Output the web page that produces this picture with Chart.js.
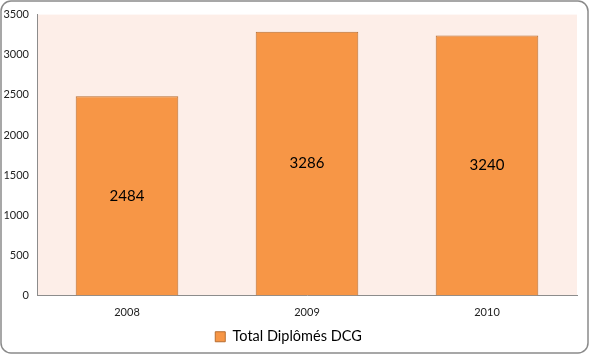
<!DOCTYPE html>
<html><head><meta charset="utf-8">
<script src="https://cdn.jsdelivr.net/npm/chart.js@4/dist/chart.umd.min.js"></script>
<style>html,body{margin:0;padding:0;background:#fff;}#wrap{width:590px;height:356px;position:relative;}</style>
</head><body><div id="wrap"><canvas id="c" width="590" height="356"></canvas></div>
<script>
const categories = ["2008", "2009", "2010"];
const seriesName = "Total Diplômés DCG";
const values = [2484, 3286, 3240];
const yTicks = [0, 500, 1000, 1500, 2000, 2500, 3000, 3500];

const frame = {
  id: 'frame',
  beforeDraw(chart) {
    const ctx = chart.ctx, a = chart.chartArea;
    ctx.save();
    ctx.fillStyle = '#fff';
    ctx.fillRect(0, 0, chart.width, chart.height);
    ctx.fillStyle = '#FDEEE8';
    ctx.fillRect(a.left, a.top, a.right - a.left, a.bottom - a.top);
    ctx.restore();
  },
  afterDraw(chart) {
    const ctx = chart.ctx;
    ctx.save();
    ctx.strokeStyle = '#8a8a8a';
    ctx.lineWidth = 1.5;
    ctx.beginPath();
    ctx.roundRect(1, 1, chart.width - 3, chart.height - 4, 10);
    ctx.stroke();
    ctx.restore();
  }
};
const labels = {
  id: 'labels',
  afterDatasetsDraw(chart) {
    const ctx = chart.ctx;
    const meta = chart.getDatasetMeta(0);
    ctx.save();
    ctx.fillStyle = '#000';
    ctx.font = '15px Lato, sans-serif';
    ctx.textAlign = 'center';
    ctx.textBaseline = 'middle';
    meta.data.forEach((bar, i) => {
      const p = bar.getProps(['x', 'y', 'base'], true);
      ctx.fillText(String(values[i]), p.x, (p.y + p.base) / 2);
    });
    ctx.restore();
  }
};

new Chart(document.getElementById('c'), {
  type: 'bar',
  data: {
    labels: categories,
    datasets: [{
      label: seriesName,
      data: values,
      backgroundColor: '#F79646',
      borderColor: '#B66D31',
      borderWidth: 1,
      categoryPercentage: 1,
      barPercentage: 0.57
    }]
  },
  options: {
    responsive: false,
    animation: false,
    devicePixelRatio: 1,
    layout: { padding: { left: 0, top: 11, right: 13, bottom: 2 } },
    scales: {
      y: {
        min: 0, max: 3500,
        afterBuildTicks(s) { s.ticks = yTicks.map(v => ({ value: v })); },
        afterFit(s) { s.width = 37; },
        grid: { display: false, drawTicks: false },
        border: { color: '#8c8c8c', width: 1 },
        ticks: { color: '#222', font: { family: 'Lato, sans-serif', size: 11 }, padding: 8,
                 callback: v => String(v) }
      },
      x: {
        afterFit(s) { s.height = 24; },
        grid: { display: false, drawTicks: false },
        border: { color: '#8c8c8c', width: 1 },
        ticks: { color: '#222', font: { family: 'Lato, sans-serif', size: 11 }, padding: 10 }
      }
    },
    plugins: {
      legend: {
        position: 'bottom',
        labels: {
          color: '#000',
          font: { family: 'Lato, sans-serif', size: 14.5 },
          boxWidth: 10, boxHeight: 10, padding: 10
        }
      },
      tooltip: { enabled: false }
    }
  },
  plugins: [frame, labels]
});
</script></body></html>
